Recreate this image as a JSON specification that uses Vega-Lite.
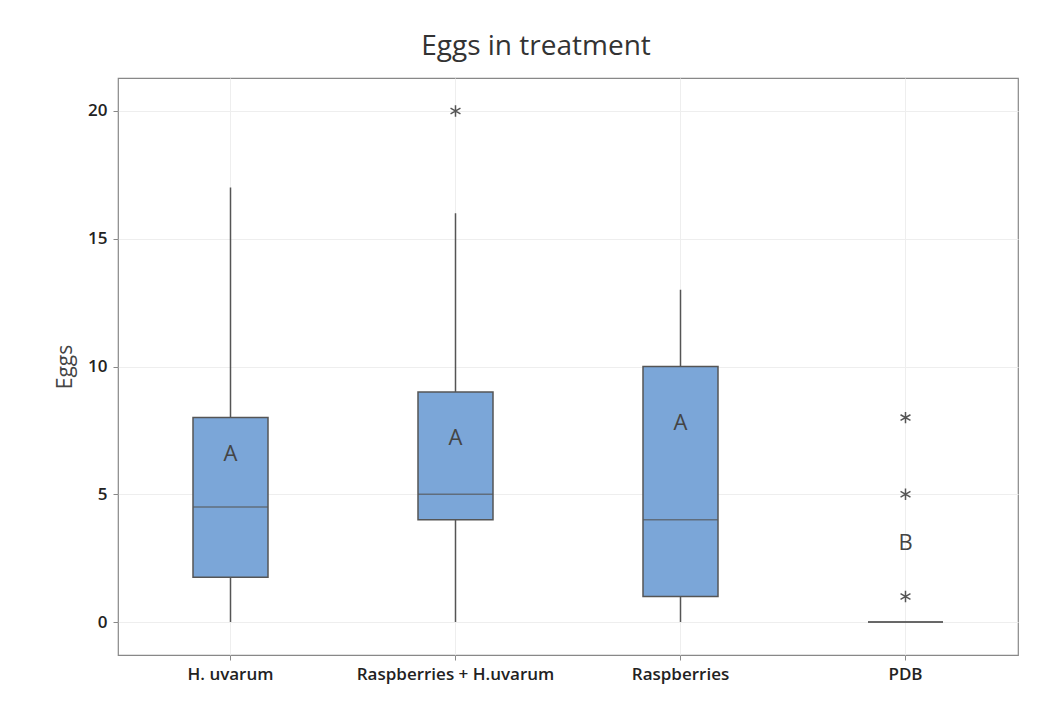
{
  "$schema": "https://vega.github.io/schema/vega-lite/v6.json",
  "width": 900,
  "height": 577,
  "autosize": "none",
  "padding": {"left": 118, "top": 78, "right": 40, "bottom": 51},
  "background": "white",
  "title": {"text": "Eggs in treatment", "fontSize": 28, "font": "Open Sans", "fontWeight": "normal", "color": "#333333", "dx": -32, "offset": 17},
  "datasets": {
    "boxes": [
      {"treatment": "H. uvarum", "min": 0, "q1": 1.75, "median": 4.5, "q3": 8, "max": 17},
      {"treatment": "Raspberries + H.uvarum", "min": 0, "q1": 4, "median": 5, "q3": 9, "max": 16},
      {"treatment": "Raspberries", "min": 0, "q1": 1, "median": 4, "q3": 10, "max": 13},
      {"treatment": "PDB", "min": 0, "q1": 0, "median": 0, "q3": 0, "max": 0}
    ],
    "outliers": [
      {"treatment": "Raspberries + H.uvarum", "eggs": 20},
      {"treatment": "PDB", "eggs": 8},
      {"treatment": "PDB", "eggs": 5},
      {"treatment": "PDB", "eggs": 1}
    ],
    "letters": [
      {"treatment": "H. uvarum", "y": 6.58, "letter": "A"},
      {"treatment": "Raspberries + H.uvarum", "y": 7.2, "letter": "A"},
      {"treatment": "Raspberries", "y": 7.79, "letter": "A"},
      {"treatment": "PDB", "y": 3.09, "letter": "B"}
    ]
  },
  "encoding": {
    "x": {
      "field": "treatment", "type": "nominal",
      "sort": ["H. uvarum", "Raspberries + H.uvarum", "Raspberries", "PDB"],
      "scale": {"paddingInner": 0, "paddingOuter": 0},
      "axis": {"title": null, "labelAngle": 0, "labelLimit": 0, "labelFont": "Open Sans", "labelFontSize": 17, "labelFontWeight": 600, "labelColor": "#222222", "grid": true, "gridColor": "#eeeeee", "domain": false, "tickColor": "#888888", "tickSize": 5, "labelPadding": 6}
    }
  },
  "layer": [
    {
      "data": {"name": "boxes"},
      "mark": {"type": "rule", "color": "#555555", "strokeWidth": 1.5},
      "encoding": {
        "y": {"field": "min", "type": "quantitative",
          "scale": {"domain": [-1.29, 21.29], "nice": false, "zero": false},
          "axis": {"title": "Eggs", "titleFont": "Open Sans", "titleFontSize": 21, "titleFontWeight": "normal", "titleColor": "#444444", "titlePadding": 12, "values": [0, 5, 10, 15, 20], "labelFont": "Open Sans", "labelFontSize": 17, "labelFontWeight": 600, "labelColor": "#222222", "grid": true, "gridColor": "#eeeeee", "domain": false, "tickColor": "#888888", "tickSize": 5, "labelPadding": 6}},
        "y2": {"field": "max"}
      }
    },
    {
      "data": {"name": "boxes"},
      "mark": {"type": "bar", "size": 75, "fill": "#7ba6d8", "stroke": "#555555", "strokeWidth": 1.5},
      "encoding": {
        "y": {"field": "q1", "type": "quantitative"},
        "y2": {"field": "q3"}
      }
    },
    {
      "data": {"name": "boxes"},
      "mark": {"type": "tick", "size": 75, "thickness": 1.5, "color": "#555555"},
      "encoding": {
        "y": {"field": "median", "type": "quantitative"}
      }
    },
    {
      "data": {"name": "outliers"},
      "mark": {"type": "point", "shape": "M0,-1L0,1M-0.87,-0.5L0.87,0.5M-0.87,0.5L0.87,-0.5", "size": 130, "filled": false, "stroke": "#555555", "strokeWidth": 1.5, "opacity": 1},
      "encoding": {
        "y": {"field": "eggs", "type": "quantitative"}
      }
    },
    {
      "data": {"name": "letters"},
      "mark": {"type": "text", "font": "Open Sans", "fontSize": 22, "color": "#444444", "baseline": "middle", "align": "center"},
      "encoding": {
        "y": {"field": "y", "type": "quantitative"},
        "text": {"field": "letter"}
      }
    }
  ],
  "config": {
    "view": {"stroke": "#888888", "strokeWidth": 1.2}
  }
}
